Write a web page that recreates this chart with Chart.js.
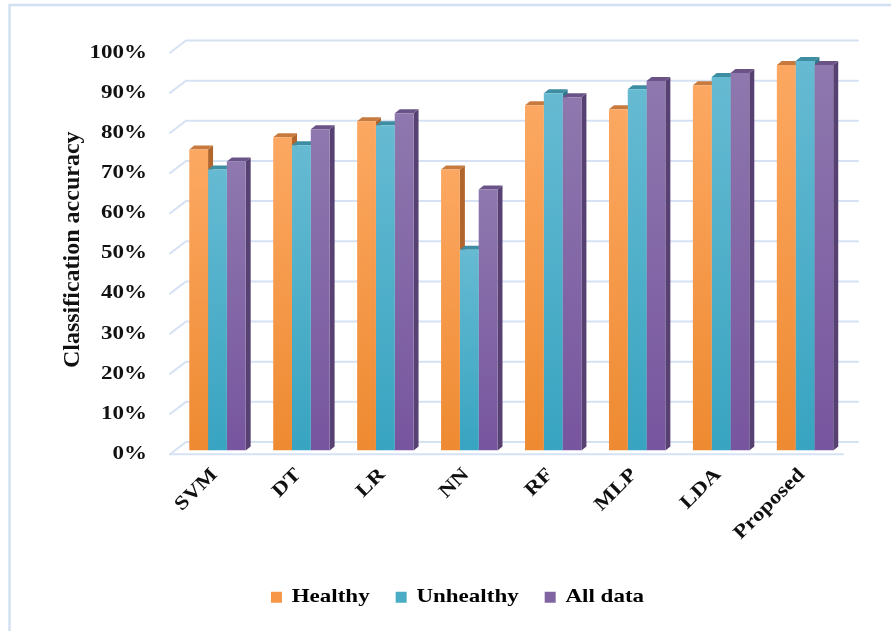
<!DOCTYPE html>
<html>
<head>
<meta charset="utf-8">
<script src="https://cdn.jsdelivr.net/npm/chart.js@4/dist/chart.umd.min.js"></script>
<style>
  html, body { margin: 0; padding: 0; background: #ffffff; }
  #wrap { width: 891px; height: 631px; position: relative; }
</style>
</head>
<body>
<div id="wrap"><canvas id="chart"></canvas></div>
<script>
// Classifiers compared on the x axis
const categories = ['SVM', 'DT', 'LR', 'NN', 'RF', 'MLP', 'LDA', 'Proposed'];

// Classification accuracy (%) per classifier
const healthy   = [75, 78, 82, 70, 86, 85, 91, 96];
const unhealthy = [70, 76, 81, 50, 89, 90, 93, 97];
const allData   = [72, 80, 84, 65, 88, 92, 94, 96];

// Labels of the value axis, 0% .. 100% in steps of 10
const yTickLabels = ['0%', '10%', '20%', '30%', '40%', '50%', '60%', '70%', '80%', '90%', '100%'];

const seriesNames = ['Healthy', 'Unhealthy', 'All data'];

// Face colours of each column: lit front (top -> bottom), top face, side face
const palettes = [
  { light: '#fca862', dark: '#ee8a31', top: '#c87a3e', side: '#b1662e', key: '#f79646' },
  { light: '#66bad2', dark: '#38a4c1', top: '#3e8ea3', side: '#2d7a8f', key: '#4bacc6' },
  { light: '#8e78ae', dark: '#77559f', top: '#6a5386', side: '#574172', key: '#8064a2' }
];

const SERIF = '"Liberation Serif", "Times New Roman", serif';
const GRID = '#d6e2f3';
const TITLE_SIZE = 24;
const TEXT_SIZE = 19.5;
// Wide set of the labels: glyphs are drawn 18% wider than their height
const TEXT_SX = 1.18;

// Oblique depth of a column and of the walls
const BAR_DX = 5, BAR_DY = -4;
const FRONT_DX = -5.5, FRONT_DY = 3.7;
const BACK_DX = 10.5, BACK_DY = -8.5;

const canvas = document.getElementById('chart');
const g2d = canvas.getContext('2d');

// Horizontally widened label text (the axis title keeps its normal set)
(function widenText(ctx) {
  const fill = ctx.fillText.bind(ctx);
  const measure = ctx.measureText.bind(ctx);
  const isTitle = () => ctx.font.indexOf(TITLE_SIZE + 'px') >= 0;
  ctx.fillText = function (text, x, y, maxWidth) {
    if (isTitle()) return fill(text, x, y);
    ctx.save();
    ctx.translate(x, y);
    ctx.scale(TEXT_SX, 1);
    fill(text, 0, 0);
    ctx.restore();
  };
  ctx.measureText = function (text) {
    const m = measure(text);
    if (isTitle()) return m;
    return {
      width: m.width * TEXT_SX,
      actualBoundingBoxAscent: m.actualBoundingBoxAscent,
      actualBoundingBoxDescent: m.actualBoundingBoxDescent,
      actualBoundingBoxLeft: m.actualBoundingBoxLeft * TEXT_SX,
      actualBoundingBoxRight: m.actualBoundingBoxRight * TEXT_SX
    };
  };
})(g2d);

function frontFill(c, pal) {
  const chart = c.chart;
  if (!chart.chartArea || c.type !== 'data') return pal.key;
  const ys = chart.scales.y;
  const top = ys.getPixelForValue(c.raw);
  const bot = ys.getPixelForValue(0);
  const g = chart.ctx.createLinearGradient(0, top, 0, bot);
  g.addColorStop(0, pal.light);
  g.addColorStop(1, pal.dark);
  return g;
}

// Light frame along the top and left edge of the figure
const framePlugin = {
  id: 'frame',
  beforeDraw(chart) {
    const ctx = chart.ctx;
    ctx.save();
    ctx.strokeStyle = '#d3e0f1';
    ctx.lineWidth = 2.5;
    ctx.beginPath();
    ctx.moveTo(9.5, chart.height);
    ctx.lineTo(9.5, 5);
    ctx.lineTo(chart.width, 5);
    ctx.stroke();
    ctx.restore();
  }
};

// Back wall, side wall and floor grid of the 3-D plot box
const wallsPlugin = {
  id: 'walls',
  beforeDatasetsDraw(chart) {
    const ctx = chart.ctx;
    const ys = chart.scales.y;
    const { left, right } = chart.chartArea;
    ctx.save();
    ctx.strokeStyle = GRID;
    ctx.lineWidth = 2;
    ctx.lineCap = 'round';
    ys.ticks.forEach(t => {
      const p = ys.getPixelForValue(t.value);
      ctx.beginPath();
      ctx.moveTo(left + FRONT_DX, p + FRONT_DY);
      ctx.lineTo(left + BACK_DX, p + BACK_DY);
      ctx.lineTo(right + BACK_DX + 0.5, p + BACK_DY);
      ctx.stroke();
    });
    const p0 = ys.getPixelForValue(0);
    ctx.beginPath();
    ctx.moveTo(left + FRONT_DX, p0 + FRONT_DY);
    ctx.lineTo(right - 4, p0 + FRONT_DY);
    ctx.stroke();
    ctx.restore();
  }
};

// Top and side faces of every column, painted back-to-front
const columnsPlugin = {
  id: 'columns3d',
  beforeDatasetsDraw(chart) {
    const ctx = chart.ctx;
    ctx.save();
    for (let i = 0; i < categories.length; i++) {
      chart.data.datasets.forEach((ds, di) => {
        const bar = chart.getDatasetMeta(di).data[i];
        const { x, y, base, width } = bar.getProps(['x', 'y', 'base', 'width'], true);
        const l = x - width / 2, r = x + width / 2;
        const pal = palettes[di];
        ctx.fillStyle = pal.side;
        ctx.beginPath();
        ctx.moveTo(r, y);
        ctx.lineTo(r + BAR_DX, y + BAR_DY);
        ctx.lineTo(r + BAR_DX, base + BAR_DY);
        ctx.lineTo(r, base);
        ctx.closePath();
        ctx.fill();
        ctx.fillStyle = pal.top;
        ctx.beginPath();
        ctx.moveTo(l, y);
        ctx.lineTo(l + BAR_DX, y + BAR_DY);
        ctx.lineTo(r + BAR_DX, y + BAR_DY);
        ctx.lineTo(r, y);
        ctx.closePath();
        ctx.fill();
      });
    }
    ctx.restore();
  }
};

const values = [healthy, unhealthy, allData];

new Chart(canvas, {
  type: 'bar',
  data: {
    labels: categories,
    datasets: values.map((v, k) => ({
      label: seriesNames[k],
      data: v,
      backgroundColor: c => frontFill(c, palettes[k]),
      borderWidth: 0,
      categoryPercentage: 0.672,
      barPercentage: 1.0
    }))
  },
  options: {
    responsive: true,
    maintainAspectRatio: false,
    devicePixelRatio: 1,
    animation: false,
    layout: { padding: { left: 68, right: 44, top: 49, bottom: 14 } },
    scales: {
      x: {
        grid: { display: false, drawTicks: false },
        border: { display: false },
        ticks: {
          color: '#111111',
          font: { family: SERIF, size: TEXT_SIZE, weight: 'bold' },
          minRotation: 45,
          maxRotation: 45,
          padding: 13,
          labelOffset: -3,
          autoSkip: false
        },
        afterFit(s) { s.height = 111; }
      },
      y: {
        min: 0,
        max: 100,
        grid: { display: false, drawTicks: false },
        border: { display: false },
        ticks: {
          stepSize: 10,
          color: '#111111',
          font: { family: SERIF, size: TEXT_SIZE, weight: 'bold' },
          padding: 28.5,
          labelOffset: 3.5,
          callback: (v, i) => yTickLabels[i]
        },
        title: {
          display: true,
          text: 'Classification accuracy',
          color: '#111111',
          font: { family: SERIF, size: TITLE_SIZE, weight: 'bold' },
          padding: { top: -10, bottom: 0 }
        },
        afterFit(s) { s.width = 175.5 - 68; }
      }
    },
    plugins: {
      tooltip: { enabled: false },
      legend: {
        position: 'bottom',
        labels: {
          color: '#111111',
          font: { family: SERIF, size: TEXT_SIZE, weight: 'bold' },
          boxWidth: 11,
          boxHeight: 11,
          padding: 26,
          generateLabels: chart => seriesNames.map((n, k) => ({
            text: n,
            fillStyle: palettes[k].key,
            strokeStyle: palettes[k].key,
            lineWidth: 0,
            datasetIndex: k,
            hidden: false
          }))
        }
      }
    }
  },
  plugins: [framePlugin, wallsPlugin, columnsPlugin]
});
</script>
</body>
</html>
